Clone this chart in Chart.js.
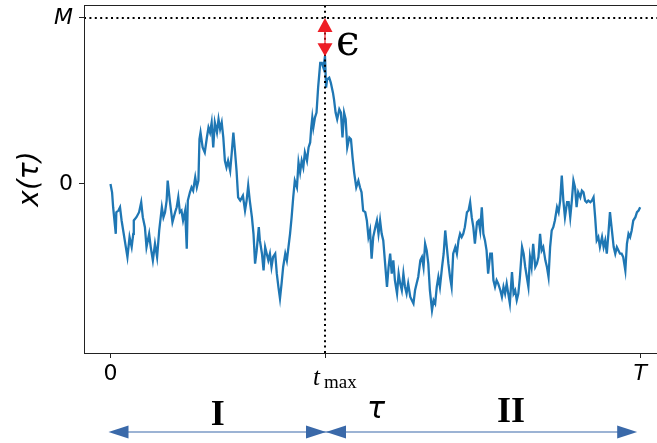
<!DOCTYPE html>
<html>
<head>
<meta charset="utf-8">
<title>Random walk and its maximum</title>
<script src="https://cdn.jsdelivr.net/npm/chart.js@4.4.1/dist/chart.umd.min.js"></script>
<style>
    body { margin: 0; background: #fff; }
    #wrap { width: 657px; height: 443px; overflow: hidden; }
</style>
</head>
<body>
<div id="wrap"><canvas id="walkChart" width="664" height="443"></canvas></div>
<script>
// time steps (T = 1000) and the walk x(t), in units where M = 1
var steps = [0, 3, 5, 10, 11, 15, 18, 21, 24, 29, 32, 36, 40, 43, 44, 49, 54, 58, 61, 65,
    68, 73, 76, 80, 84, 88, 92, 97, 100, 103, 106, 108, 112, 117, 122, 125, 128, 131, 134, 137,
    141, 144, 146, 150, 153, 156, 160, 163, 166, 168, 170, 174, 178, 182, 185, 188, 191, 194, 197, 201,
    204, 207, 210, 213, 216, 219, 222, 226, 229, 232, 235, 238, 241, 245, 250, 254, 257, 260, 263, 267,
    270, 273, 276, 280, 282, 286, 289, 292, 295, 298, 301, 304, 307, 311, 314, 317, 320, 323, 326, 330,
    333, 336, 339, 342, 345, 348, 352, 355, 358, 361, 364, 367, 371, 374, 377, 379, 381, 383, 386, 389,
    392, 396, 399, 402, 405, 407, 409, 413, 416, 420, 422, 425, 428, 432, 435, 438, 441, 444, 447, 451,
    454, 457, 460, 464, 468, 471, 474, 477, 481, 484, 487, 490, 493, 496, 500, 503, 506, 509, 512, 515,
    518, 522, 525, 528, 531, 534, 537, 541, 544, 547, 550, 553, 556, 559, 562, 566, 569, 572, 575, 578,
    581, 585, 588, 591, 594, 597, 600, 603, 607, 610, 613, 616, 619, 622, 626, 629, 632, 635, 638, 641,
    644, 647, 651, 654, 657, 660, 663, 666, 669, 673, 676, 679, 682, 685, 688, 692, 695, 698, 701, 704,
    707, 710, 713, 717, 720, 723, 726, 729, 732, 736, 739, 742, 745, 748, 751, 754, 758, 761, 764, 767,
    770, 773, 777, 780, 783, 786, 789, 792, 795, 798, 802, 805, 808, 811, 814, 817, 821, 824, 827, 830,
    833, 836, 839, 843, 846, 849, 852, 855, 858, 862, 865, 868, 871, 874, 877, 880, 883, 887, 890, 893,
    896, 899, 902, 906, 909, 912, 915, 918, 921, 924, 928, 931, 934, 937, 940, 943, 946, 950, 953, 956,
    959, 962, 965, 968, 972, 975, 978, 981, 984, 987, 991, 994, 997, 1000];
var walk = [0.00, -0.05, -0.14, -0.30, -0.17, -0.16, -0.14, -0.22, -0.28, -0.38, -0.44, -0.32, -0.38, -0.30, -0.22, -0.20, -0.17, -0.11, -0.20, -0.26,
    -0.38, -0.30, -0.38, -0.46, -0.36, -0.44, -0.28, -0.14, -0.20, -0.17, -0.10, 0.02, -0.10, -0.23, -0.17, -0.14, -0.08, -0.17, -0.16, -0.22,
    -0.16, -0.39, -0.10, -0.05, -0.02, -0.04, 0.04, -0.02, 0.02, 0.27, 0.31, 0.22, 0.19, 0.28, 0.34, 0.31, 0.37, 0.22, 0.37, 0.31,
    0.39, 0.33, 0.37, 0.28, 0.14, 0.10, 0.14, 0.08, 0.19, 0.31, 0.20, 0.08, -0.08, -0.10, -0.07, -0.16, -0.10, -0.01, -0.10, -0.20,
    -0.30, -0.48, -0.40, -0.26, -0.34, -0.42, -0.52, -0.38, -0.42, -0.46, -0.42, -0.50, -0.44, -0.42, -0.54, -0.62, -0.69, -0.60, -0.50, -0.42,
    -0.46, -0.38, -0.30, -0.20, -0.08, 0.02, -0.02, 0.13, 0.07, 0.14, 0.10, 0.19, 0.14, 0.22, 0.25, 0.34, 0.40, 0.34, 0.40, 0.43,
    0.58, 0.73, 0.73, 0.70, 0.77, 0.58, 0.63, 0.64, 0.61, 0.55, 0.51, 0.43, 0.39, 0.45, 0.43, 0.28, 0.43, 0.39, 0.22, 0.28,
    0.27, 0.16, 0.07, -0.02, 0.02, -0.02, -0.05, -0.16, -0.17, -0.22, -0.32, -0.28, -0.45, -0.32, -0.26, -0.22, -0.30, -0.22, -0.30, -0.34,
    -0.46, -0.62, -0.50, -0.42, -0.54, -0.46, -0.58, -0.66, -0.54, -0.60, -0.64, -0.54, -0.62, -0.66, -0.60, -0.68, -0.70, -0.72, -0.64, -0.60,
    -0.56, -0.46, -0.44, -0.50, -0.36, -0.40, -0.48, -0.64, -0.76, -0.70, -0.72, -0.62, -0.56, -0.62, -0.50, -0.42, -0.28, -0.38, -0.48, -0.56,
    -0.62, -0.42, -0.38, -0.42, -0.34, -0.30, -0.32, -0.30, -0.26, -0.17, -0.16, -0.11, -0.20, -0.26, -0.36, -0.23, -0.22, -0.28, -0.14, -0.30,
    -0.34, -0.40, -0.54, -0.42, -0.42, -0.58, -0.62, -0.58, -0.60, -0.64, -0.68, -0.62, -0.66, -0.60, -0.66, -0.72, -0.53, -0.66, -0.64, -0.70,
    -0.66, -0.56, -0.38, -0.42, -0.50, -0.56, -0.62, -0.44, -0.50, -0.36, -0.50, -0.48, -0.44, -0.30, -0.40, -0.38, -0.46, -0.50, -0.56, -0.38,
    -0.28, -0.26, -0.22, -0.14, -0.17, -0.10, 0.05, -0.10, -0.20, -0.11, -0.11, -0.20, -0.10, 0.02, -0.02, -0.14, -0.05, -0.08, -0.04, -0.05,
    -0.10, -0.11, -0.10, -0.11, -0.10, -0.08, -0.20, -0.34, -0.32, -0.38, -0.32, -0.38, -0.34, -0.42, -0.30, -0.17, -0.26, -0.38, -0.42, -0.38,
    -0.40, -0.42, -0.42, -0.44, -0.52, -0.36, -0.30, -0.32, -0.28, -0.22, -0.20, -0.17, -0.16, -0.14];

var T_END = 1000;
var T_MAX = 405;       // time at which the walk reaches its maximum
var M_LEVEL = 1;       // upper level M
var xTicks = [0, T_MAX, T_END];
var xTickLabels = ['0', '', 'T'];
var yTicks = [0, M_LEVEL];
var yTickLabels = ['0', 'M'];
var segmentLabels = ['I', 'τ', 'II'];

var X_MIN = -50, X_MAX = 1045;
var Y_MIN = -1.018, Y_MAX = 1.078;

var walkPoints = steps.map(function (t, i) { return { x: t, y: walk[i] }; });
var peak = Math.max.apply(null, walk);

function arrowHead(ctx, tipX, tipY, dx, dy, len, half) {
    // dx, dy: unit direction the head points to
    var bx = tipX - dx * len, by = tipY - dy * len;
    ctx.beginPath();
    ctx.moveTo(tipX, tipY);
    ctx.lineTo(bx - dy * half, by + dx * half);
    ctx.lineTo(bx + dy * half, by - dx * half);
    ctx.closePath();
    ctx.fill();
}

var annotations = {
    id: 'annotations',
    afterDatasetsDraw: function (chart) {
        var ctx = chart.ctx, a = chart.chartArea;
        var xs = chart.scales.x, ys = chart.scales.y;
        ctx.save();

        // axes frame
        ctx.strokeStyle = '#222';
        ctx.lineWidth = 1;
        ctx.strokeRect(a.left + 0.5, a.top + 0.5, a.right - a.left, a.bottom - a.top);

        // epsilon gap between M and the maximum
        var px = xs.getPixelForValue(T_MAX);
        var yTop = ys.getPixelForValue(M_LEVEL);
        var yBot = ys.getPixelForValue(peak);
        ctx.strokeStyle = '#ee1d25';
        ctx.fillStyle = '#ee1d25';
        ctx.lineWidth = 1.2;
        ctx.beginPath();
        ctx.moveTo(px, yTop + 10);
        ctx.lineTo(px, yBot - 10);
        ctx.stroke();
        arrowHead(ctx, px, yTop, 0, -1, 14, 7.5);
        arrowHead(ctx, px, yBot, 0, 1, 13, 7.5);
        ctx.fillStyle = '#000';
        ctx.font = '42px "DejaVu Serif"';
        ctx.textAlign = 'left';
        ctx.textBaseline = 'alphabetic';
        ctx.fillText('ϵ', px + 11, yBot - 1);

        // t_max tick label
        var base = a.bottom + 32;
        ctx.font = 'italic 25px "Liberation Serif"';
        ctx.fillText('t', px - 12, base);
        ctx.font = '19px "Liberation Serif"';
        ctx.fillText('max', px - 1, base + 3);

        // segments I, tau, II under the axis
        var ay = a.bottom + 79;
        var x0 = xs.getPixelForValue(0) - 2;
        var x1 = xs.getPixelForValue(T_END) - 3;
        ctx.strokeStyle = '#3a69a9';
        ctx.fillStyle = '#3a69a9';
        ctx.lineWidth = 1.2;
        ctx.beginPath();
        ctx.moveTo(x0 + 10, ay);
        ctx.lineTo(x1 - 10, ay);
        ctx.stroke();
        arrowHead(ctx, x0, ay, -1, 0, 20, 6.5);
        arrowHead(ctx, px + 1, ay, 1, 0, 20, 6.5);
        arrowHead(ctx, px + 1, ay, -1, 0, 20, 6.5);
        arrowHead(ctx, x1, ay, 1, 0, 20, 6.5);

        ctx.fillStyle = '#000';
        ctx.textAlign = 'center';
        ctx.font = 'bold 36px "Liberation Serif"';
        ctx.fillText(segmentLabels[0], (x0 + px) / 2 + 1, a.bottom + 72);
        ctx.fillText(segmentLabels[2], 511, a.bottom + 69);
        ctx.font = 'italic 30px "DejaVu Sans"';
        ctx.fillText(segmentLabels[1], px + 51, a.bottom + 65);
        ctx.restore();
    }
};

var tickFont = function (c) {
    var lab = c.tick ? c.tick.label : '';
    return { family: 'DejaVu Sans', size: 22, style: (lab === 'T' || lab === 'M') ? 'italic' : 'normal' };
};

new Chart(document.getElementById('walkChart'), {
    type: 'scatter',
    data: {
        datasets: [
            {
                data: walkPoints,
                showLine: true,
                borderColor: '#1f77b4',
                borderWidth: 2.3,
                pointRadius: 0,
                tension: 0,
                order: 2
            },
            {
                data: [{ x: X_MIN, y: M_LEVEL }, { x: X_MAX, y: M_LEVEL }],
                showLine: true,
                borderColor: '#000',
                borderWidth: 2,
                borderDash: [2, 3.4],
                pointRadius: 0,
                order: 1
            },
            {
                data: [{ x: T_MAX, y: Y_MIN }, { x: T_MAX, y: Y_MAX }],
                showLine: true,
                borderColor: '#000',
                borderWidth: 2,
                borderDash: [2, 3.4],
                pointRadius: 0,
                order: 0
            }
        ]
    },
    options: {
        responsive: false,
        animation: false,
        events: [],
        layout: { padding: { top: 5, right: 0, bottom: 0, left: 0 } },
        plugins: { legend: { display: false }, tooltip: { enabled: false } },
        scales: {
            x: {
                type: 'linear',
                min: X_MIN,
                max: X_MAX,
                afterBuildTicks: function (s) { s.ticks = xTicks.map(function (v) { return { value: v }; }); },
                afterFit: function (s) { s.height = 90; s.paddingLeft = 0; s.paddingRight = 0; },
                grid: { drawOnChartArea: false, drawTicks: true, tickLength: 5, color: '#222', lineWidth: 1 },
                border: { display: false },
                ticks: {
                    autoSkip: false,
                    maxRotation: 0,
                    padding: 3,
                    color: '#000',
                    font: tickFont,
                    callback: function (v, i) { return xTickLabels[i]; }
                }
            },
            y: {
                type: 'linear',
                min: Y_MIN,
                max: Y_MAX,
                afterBuildTicks: function (s) { s.ticks = yTicks.map(function (v) { return { value: v }; }); },
                afterFit: function (s) { s.width = 84; s.paddingTop = 0; s.paddingBottom = 0; },
                grid: { drawOnChartArea: false, drawTicks: true, tickLength: 5, color: '#222', lineWidth: 1 },
                border: { display: false },
                title: {
                    display: true,
                    text: 'x(τ)',
                    color: '#000',
                    font: { family: 'DejaVu Sans', size: 28, style: 'italic' },
                    padding: { top: 14, bottom: 0 }
                },
                ticks: {
                    autoSkip: false,
                    padding: 6,
                    color: '#000',
                    font: tickFont,
                    callback: function (v, i) { return yTickLabels[i]; }
                }
            }
        }
    },
    plugins: [annotations]
});
</script>
</body>
</html>
